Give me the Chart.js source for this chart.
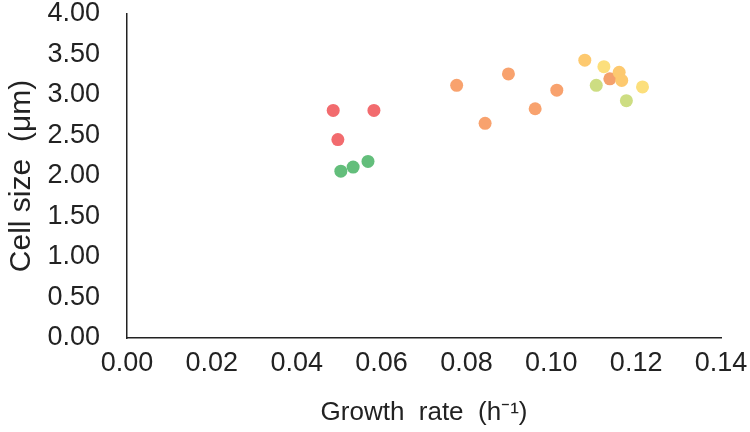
<!DOCTYPE html>
<html>
<head>
<meta charset="utf-8">
<script src="https://cdn.jsdelivr.net/npm/chart.js@4"></script>
<style>
  html, body { margin: 0; padding: 0; background: #fff; }
  #wrap { width: 750px; height: 432px; }
</style>
</head>
<body>
<div id="wrap"><canvas id="scatterChart"></canvas></div>
<script>
// growth rate (h-1) and cell size (um) for each sample, with its colour
const growthRate = [0.0486, 0.0582, 0.0497, 0.0504, 0.0533, 0.0568,
                    0.0777, 0.0844, 0.0899, 0.0962, 0.1013,
                    0.1079, 0.1124, 0.1106, 0.1138, 0.1160, 0.1166, 0.1215, 0.1177];
const cellSize = [2.81, 2.81, 2.45, 2.06, 2.11, 2.18,
                  3.12, 2.65, 3.26, 2.83, 3.06,
                  3.43, 3.35, 3.12, 3.20, 3.28, 3.18, 3.10, 2.93];
const pointColors = ['#F26B6E', '#F26B6E', '#F26B6E', '#63BE7B', '#63BE7B', '#63BE7B',
                     '#F8A26E', '#F8A26E', '#F8A26E', '#F8A26E', '#F8A26E',
                     '#FDC96F', '#FCDF7C', '#CDDD82', '#F4A06C', '#FDC96F', '#FDC96F', '#FCDF7C', '#CDDD82'];
const xTicks = [0, 0.02, 0.04, 0.06, 0.08, 0.10, 0.12, 0.14];
const yTicks = [0, 0.5, 1, 1.5, 2, 2.5, 3, 3.5, 4];

const points = growthRate.map((g, i) => ({ x: g, y: cellSize[i] }));

const ctx = document.getElementById('scatterChart').getContext('2d');
new Chart(ctx, {
    type: 'scatter',
    data: {
        datasets: [{
            data: points,
            pointBackgroundColor: pointColors,
            pointBorderWidth: 0,
            pointRadius: 6.5,
            pointHoverRadius: 6.5
        }]
    },
    options: {
        responsive: true,
        maintainAspectRatio: false,
        animation: false,
        layout: { padding: { top: 14, right: 29, left: 0, bottom: 0 } },
        plugins: {
            legend: { display: false },
            tooltip: { enabled: false }
        },
        scales: {
            x: {
                type: 'linear',
                min: 0,
                max: 0.14,
                afterBuildTicks: axis => { axis.ticks = xTicks.map(v => ({ value: v })); },
                afterFit: axis => {
                    axis.height = 94;
                    axis.paddingLeft = 0;
                    axis.paddingRight = 0;
                },
                grid: { display: false, drawTicks: false },
                border: { display: true, color: '#222', width: 1.5 },
                ticks: {
                    padding: 9,
                    color: '#222',
                    font: { family: 'Liberation Sans', size: 27 },
                    callback: v => v.toFixed(2)
                },
                title: {
                    display: true,
                    text: 'Growth  rate  (h\u207B\u00B9)',
                    color: '#222',
                    font: { family: 'Liberation Sans', size: 26 },
                    padding: { top: 7 }
                }
            },
            y: {
                type: 'linear',
                min: 0,
                max: 4,
                afterBuildTicks: axis => { axis.ticks = yTicks.map(v => ({ value: v })); },
                afterFit: axis => {
                    axis.width = 127;
                    axis.paddingTop = 0;
                    axis.paddingBottom = 0;
                },
                grid: { display: false, drawTicks: false },
                border: { display: true, color: '#222', width: 1.5 },
                ticks: {
                    padding: 27,
                    color: '#222',
                    font: { family: 'Liberation Sans', size: 27 },
                    callback: v => v.toFixed(2)
                },
                title: {
                    display: true,
                    text: 'Cell size  (\u03BCm)',
                    color: '#222',
                    font: { family: 'Liberation Sans', size: 30 },
                    padding: { bottom: 0 }
                }
            }
        }
    }
});
</script>
</body>
</html>
